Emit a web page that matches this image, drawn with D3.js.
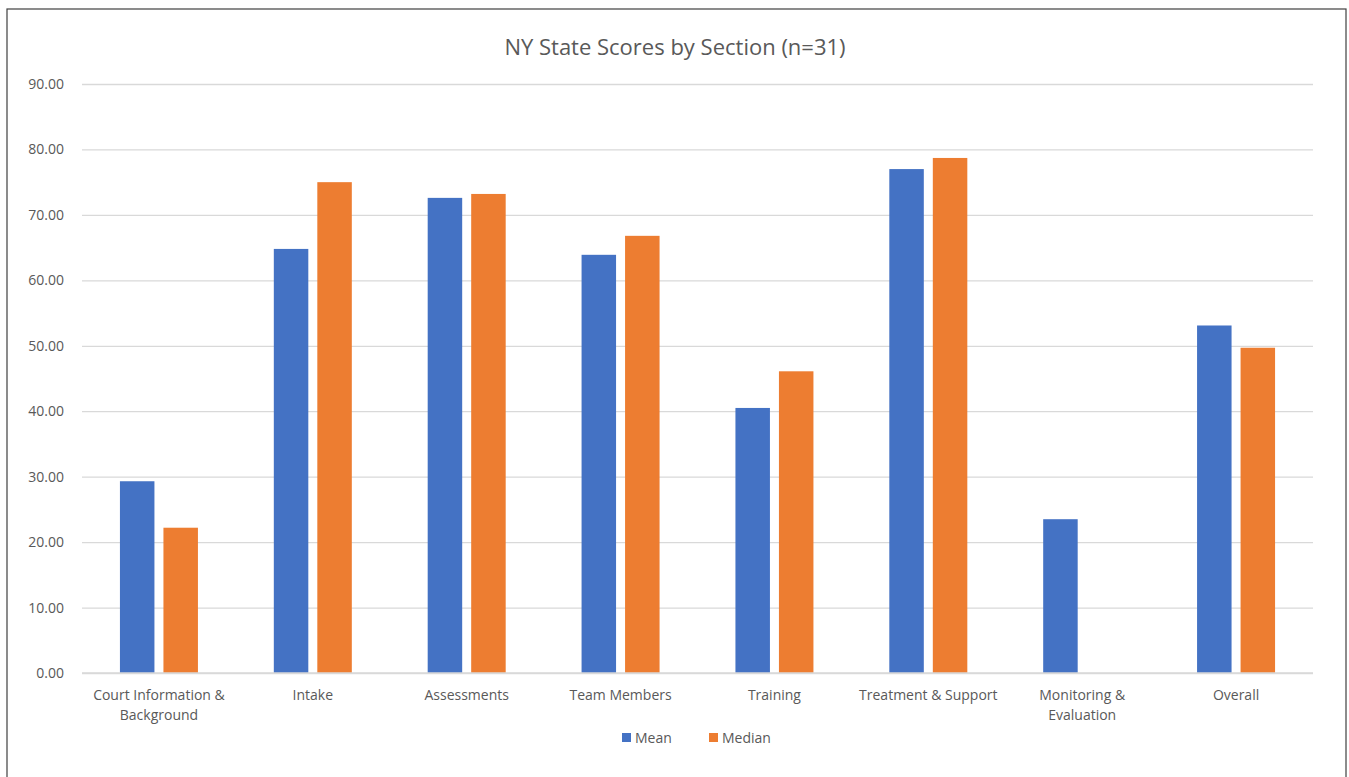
<!DOCTYPE html>
<html>
<head>
<meta charset="utf-8">
<script src="https://cdn.jsdelivr.net/npm/d3@7"></script>
<style>
  body { margin: 0; background: #fff; }
  text { font-family: "Open Sans", "Noto Sans", sans-serif; fill: #595959; }
</style>
</head>
<body>
<svg id="chart" width="1349" height="777"></svg>
<script>
var categories = ["Court Information & Background", "Intake", "Assessments", "Team Members",
  "Training", "Treatment & Support", "Monitoring & Evaluation", "Overall"];
var meanValues = [29.3, 64.8, 72.6, 63.9, 40.5, 77.0, 23.5, 53.1];
var medianValues = [22.2, 75.0, 73.2, 66.8, 46.1, 78.7, 0, 49.7];
var seriesNames = ["Mean", "Median"];
var yTicks = [0, 10, 20, 30, 40, 50, 60, 70, 80, 90];

var colors = d3.scaleOrdinal().domain(seriesNames).range(["#4472c4", "#ed7d31"]);

var svg = d3.select("#chart");

// outer frame
svg.append("rect")
  .attr("x", 7).attr("y", 9)
  .attr("width", 1339).attr("height", 790)
  .attr("fill", "none")
  .attr("stroke", "#404040")
  .attr("stroke-width", 1.2);

var margin = {top: 84, left: 82},
    width = 1313 - 82,
    height = 673 - 84;

var g = svg.append("g").attr("transform", "translate(" + margin.left + "," + margin.top + ")");

var x = d3.scaleBand().domain(categories).range([0, width]);
var x1 = d3.scaleBand().domain(seriesNames).range([0, 78]).paddingInner(0.207);
var y = d3.scaleLinear().domain([0, 90]).range([height, 0]);

// gridlines
g.append("g")
  .call(d3.axisLeft(y).tickValues(yTicks).tickSize(-width).tickFormat(d3.format(".2f")).tickPadding(18))
  .call(function(a) {
    a.select(".domain").remove();
    a.selectAll(".tick line").attr("stroke", "#d9d9d9").attr("stroke-width", 1.3);
    a.selectAll(".tick text").attr("font-size", 14).style("fill", "#595959");
  });

var data = categories.map(function(c, i) {
  return {category: c, values: [{key: "Mean", value: meanValues[i]}, {key: "Median", value: medianValues[i]}]};
});

var groups = g.selectAll(".cat")
  .data(data)
  .enter().append("g")
    .attr("class", "cat")
    .attr("transform", function(d) { return "translate(" + (x(d.category) + (x.bandwidth() - 78) / 2) + ",0)"; });

groups.selectAll("rect")
  .data(function(d) { return d.values.filter(function(v) { return v.value > 0; }); })
  .enter().append("rect")
    .attr("x", function(d) { return x1(d.key); })
    .attr("y", function(d) { return y(d.value); })
    .attr("width", x1.bandwidth())
    .attr("height", function(d) { return height - y(d.value); })
    .attr("fill", function(d) { return colors(d.key); });

// baseline
g.append("line")
  .attr("x1", 0).attr("x2", width)
  .attr("y1", height).attr("y2", height)
  .attr("stroke", "#d9d9d9").attr("stroke-width", 1.3);

// category labels
var labelLines = {
  "Court Information & Background": ["Court Information &", "Background"],
  "Monitoring & Evaluation": ["Monitoring &", "Evaluation"]
};
var xl = g.selectAll(".xlab")
  .data(categories)
  .enter().append("text")
    .attr("class", "xlab")
    .attr("text-anchor", "middle")
    .attr("font-size", 14)
    .attr("transform", function(d) { return "translate(" + (x(d) + x.bandwidth() / 2) + "," + (height + 27) + ")"; });
xl.selectAll("tspan")
  .data(function(d) { return labelLines[d] || [d]; })
  .enter().append("tspan")
    .attr("x", 0)
    .attr("dy", function(d, i) { return i === 0 ? 0 : 20; })
    .text(function(d) { return d; });

// title
svg.append("text")
  .attr("x", 675).attr("y", 55)
  .attr("text-anchor", "middle")
  .attr("font-size", 22)
  .text("NY State Scores by Section (n=31)");

// legend
var legend = svg.selectAll(".legend")
  .data(seriesNames)
  .enter().append("g")
    .attr("class", "legend")
    .attr("transform", function(d, i) { return "translate(" + (622 + i * 87) + ",733)"; });
legend.append("rect")
  .attr("width", 9).attr("height", 9)
  .attr("fill", function(d) { return colors(d); });
legend.append("text")
  .attr("x", 13).attr("y", 10)
  .attr("font-size", 14)
  .text(function(d) { return d; });
</script>
</body>
</html>
